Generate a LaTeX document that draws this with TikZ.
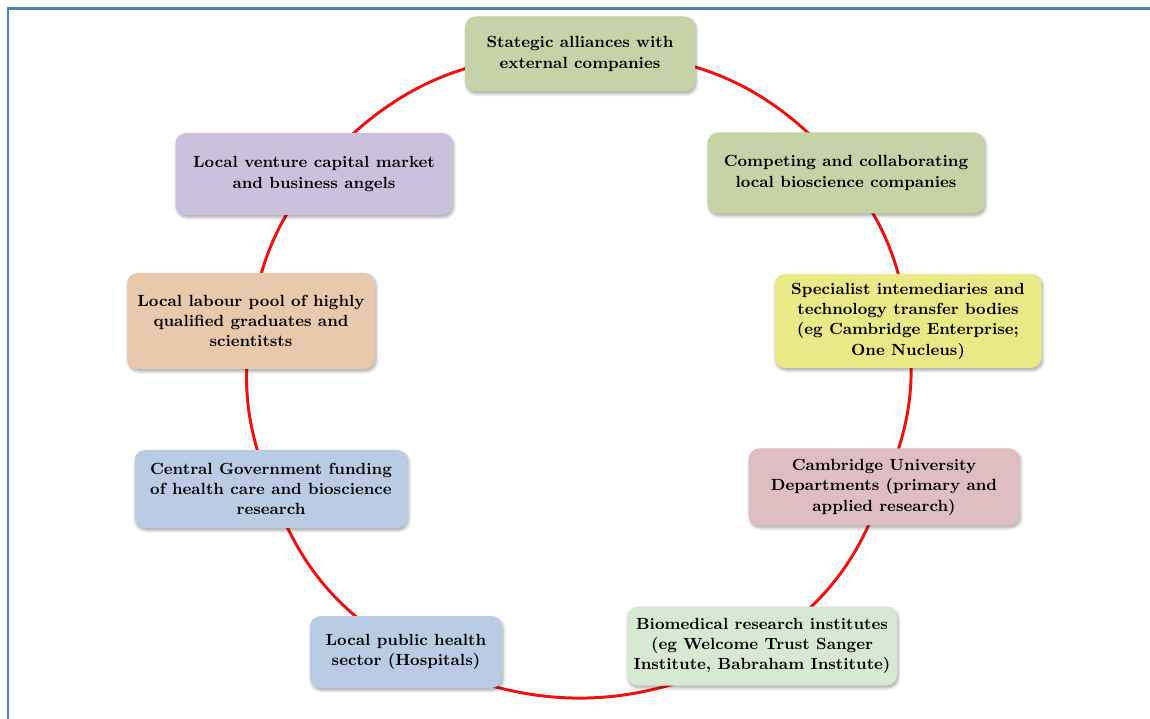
\documentclass[tikz,border=0pt]{standalone}
\usepackage{tikz}
\usetikzlibrary{shadows.blur,backgrounds}
\definecolor{frameblue}{RGB}{79,129,189}
\definecolor{ringred}{RGB}{236,18,18}
\definecolor{olivebox}{RGB}{197,211,166}
\definecolor{lemonbox}{RGB}{233,233,135}
\definecolor{rosebox}{RGB}{222,190,192}
\definecolor{mintbox}{RGB}{214,234,210}
\definecolor{skybox}{RGB}{185,204,228}
\definecolor{peachbox}{RGB}{233,201,172}
\definecolor{lilacbox}{RGB}{204,193,220}
\tikzset{
    actor/.style={
        rounded corners=6pt, align=center, inner sep=2pt,
        font=\fontsize{9.2}{11.6}\selectfont\bfseries,
        blur shadow={shadow xshift=0.7pt, shadow yshift=-1.3pt,
            shadow blur steps=6, shadow opacity=35}
    },
    boxsize/.style 2 args={minimum width=#1*0.02cm, minimum height=#2*0.02cm},
    ring/.style={ringred, line width=1.7pt},
}

\begin{document}
\begin{tikzpicture}[x=0.02cm, y=-0.02cm]
\useasboundingbox (0,0) rectangle (1150,719);
\draw[frameblue, line width=1.4pt] (8,719) -- (8,8.5) -- (1150,8.5);
% the nine actors round the ring
\node[actor, fill=olivebox, boxsize={230}{75}] (strat) at (580,54)
    {Stategic alliances with\\external companies};
\node[actor, fill=olivebox, boxsize={277}{81}] (comp) at (846,173)
    {Competing and collaborating\\local bioscience companies};
\node[actor, fill=lemonbox, boxsize={267}{94}] (spec) at (908,321)
    {Specialist intemediaries and\\technology transfer bodies\\(eg Cambridge Enterprise;\\One Nucleus)};
\node[actor, fill=rosebox, boxsize={271}{77}] (univ) at (884,487)
    {Cambridge University\\Departments (primary and\\applied research)};
\node[actor, fill=mintbox, boxsize={270}{79}] (biomed) at (762,646)
    {Biomedical research institutes\\(eg Welcome Trust Sanger\\Institute, Babraham Institute)};
\node[actor, fill=skybox, boxsize={192}{72}] (health) at (406,652)
    {Local public health\\sector (Hospitals)};
\node[actor, fill=skybox, boxsize={273}{78}] (govt) at (271,489)
    {Central Government funding\\of health care and bioscience\\research};
\node[actor, fill=peachbox, boxsize={248}{96}] (labour) at (251,321)
    {Local labour pool of highly\\qualified graduates and\\scientitsts};
\node[actor, fill=lilacbox, boxsize={277}{82}] (venture) at (314,174)
    {Local venture capital market\\and business angels};
% red ring behind the boxes
\begin{scope}[on background layer]
\draw[ring] (strat.center) to[bend left=26] (comp.center);
\draw[ring] (comp.center) to[bend left=14] (spec.center);
\draw[ring] (spec.center) to[bend left=15] (univ.center);
\draw[ring] (univ.center) to[bend left=18] (biomed.center);
\draw[ring] (biomed.center) to[bend left=28] (health.center);
\draw[ring] (health.center) to[bend left=19] (govt.center);
\draw[ring] (govt.center) to[bend left=15] (labour.center);
\draw[ring] (labour.center) to[bend left=14] (venture.center);
\draw[ring] (venture.center) to[bend left=25] (strat.center);
\end{scope}
\end{tikzpicture}
\end{document}
